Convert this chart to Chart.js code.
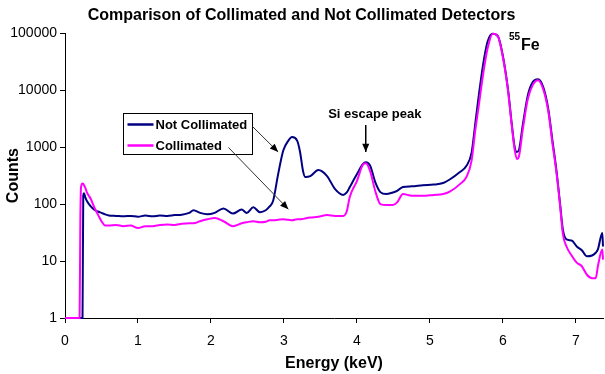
<!DOCTYPE html>
<html>
<head>
<meta charset="utf-8">
<script src="https://cdn.jsdelivr.net/npm/chart.js@4.4.1/dist/chart.umd.min.js"></script>
<style>
  html, body { margin: 0; padding: 0; background: #fff; }
  #wrap { width: 605px; height: 374px; }
</style>
</head>
<body>
<div id="wrap"><canvas id="c" width="605" height="374"></canvas></div>
<script>
// ---- data ----
const energy = [0, 0.2, 0.21, 0.22, 0.24, 0.25, 0.26, 0.28, 0.3, 0.35, 0.4, 0.45, 0.5, 0.55, 0.6,
  0.7, 0.8, 0.9, 1.0, 1.1, 1.2, 1.3, 1.4, 1.5, 1.6, 1.7, 1.76, 1.85, 1.95, 2.05, 2.17, 2.3, 2.42,
  2.49, 2.58, 2.67, 2.75, 2.8, 2.85, 2.92, 2.99, 3.06, 3.11, 3.18, 3.22, 3.26, 3.29, 3.36, 3.47,
  3.59, 3.7, 3.81, 3.86, 3.9, 4.0, 4.08, 4.12, 4.18, 4.25, 4.32, 4.4, 4.49, 4.55, 4.63, 4.75, 4.9,
  5.05, 5.18, 5.27, 5.41, 5.5, 5.57, 5.62, 5.66, 5.73, 5.79, 5.86, 5.93, 6.0, 6.07, 6.12, 6.16,
  6.19, 6.22, 6.27, 6.34, 6.41, 6.48, 6.55, 6.62, 6.68, 6.73, 6.78, 6.82, 6.87, 6.94, 7.01, 7.08,
  7.15, 7.22, 7.27, 7.3, 7.36, 7.37];

const notCollimated = [1, 1, 1, 1, 1, 140, 155, 130, 113, 92, 80, 74, 70, 66, 63,
  62, 61, 62, 60, 63, 61, 63, 62, 64, 65, 70, 78, 70, 66, 70, 84, 68, 80,
  70, 88, 72, 78, 90, 113, 336, 870, 1300, 1500, 1300, 822, 385, 300, 310, 395,
  310, 183, 145, 160, 198, 336, 500, 540, 470, 243, 162, 150, 160, 170, 200, 205, 215,
  220, 234, 270, 365, 470, 800, 2570, 6650, 29500, 72000, 98000, 89000, 39000, 10000, 2570, 1000,
  820, 900, 2400, 8100, 14000, 15500, 11400, 4700, 1230, 410, 107, 36, 24, 23, 18, 15.5,
  12.1, 12.5, 14, 16, 31, 18];

const collimated = [1, 1, 50, 200, 230, 228, 215, 190, 160, 125, 88, 66, 50, 42, 42,
  43, 41, 42, 38, 41, 41, 43, 44, 43, 45, 46, 46, 50, 54, 57, 50, 41, 46,
  48, 50, 48, 49, 52, 52, 53, 54, 53, 52, 54, 54, 55, 56, 58, 60,
  64, 62, 62, 75, 132, 256, 490, 520, 380, 170, 100, 96, 96, 107, 150, 140, 140,
  145, 150, 165, 224, 300, 580, 1960, 4500, 20000, 55000, 98000, 88000, 37000, 9500, 2400, 900,
  620, 700, 2000, 7000, 12500, 15000, 10500, 4300, 1100, 380, 100, 30, 18, 12.5, 9.4, 8.1,
  5.75, 5.0, 5.0, 8.1, 15.9, 10.6];

const xTicks = [0, 1, 2, 3, 4, 5, 6, 7];
const yTicks = [1, 10, 100, 1000, 10000, 100000];
const seriesNames = ['Not Collimated', 'Collimated'];
const seriesColors = ['#000080', '#FF00FF'];

// ---- annotations (drawn on the canvas) ----
const annot = {
  id: 'annot',
  afterDraw(chart) {
    const ctx = chart.ctx;
    const xs = chart.scales.x, ys = chart.scales.y;
    const px = e => xs.getPixelForValue(e);
    const py = v => ys.getPixelForValue(v);
    ctx.save();

    function arrow(x1, y1, x2, y2, color, lw, head) {
      ctx.strokeStyle = color; ctx.lineWidth = lw;
      ctx.beginPath(); ctx.moveTo(x1, y1); ctx.lineTo(x2, y2); ctx.stroke();
      const a = Math.atan2(y2 - y1, x2 - x1);
      ctx.fillStyle = '#000';
      ctx.beginPath();
      ctx.moveTo(x2, y2);
      ctx.lineTo(x2 - head * Math.cos(a - 0.4), y2 - head * Math.sin(a - 0.4));
      ctx.lineTo(x2 - head * Math.cos(a + 0.4), y2 - head * Math.sin(a + 0.4));
      ctx.closePath(); ctx.fill();
    }

    // legend box
    const bx = Math.round(px(0.80)) + 0.5, by = Math.round(py(3900)) + 0.5;
    const bw = 129, bh = 41;
    ctx.fillStyle = '#fff';
    ctx.fillRect(bx, by, bw, bh);
    ctx.strokeStyle = '#000'; ctx.lineWidth = 1;
    ctx.strokeRect(bx, by, bw, bh);
    ctx.font = 'bold 13px Arial, "Liberation Sans", sans-serif';
    ctx.textBaseline = 'middle'; ctx.textAlign = 'left';
    for (let i = 0; i < 2; i++) {
      const ly = by + 11 + i * 21;
      ctx.strokeStyle = seriesColors[i]; ctx.lineWidth = 2.5;
      ctx.beginPath(); ctx.moveTo(bx + 4, ly); ctx.lineTo(bx + 30, ly); ctx.stroke();
      ctx.fillStyle = '#000';
      ctx.fillText(seriesNames[i], bx + 32, ly + 1);
    }

    // arrows from legend to curves
    arrow(bx + bw, by + 13, px(2.92), py(822), '#333', 1, 9);
    arrow(bx + 105, by + 34, px(3.06), py(81), '#333', 1, 9);

    // Si escape peak
    ctx.fillStyle = '#000';
    ctx.font = 'bold 13px Arial, "Liberation Sans", sans-serif';
    ctx.textAlign = 'center';
    ctx.fillText('Si escape peak', px(4.12) + 9, py(822) - 38);
    arrow(px(4.12), py(822) - 27, px(4.12), py(822), '#000', 1.5, 9);

    // 55Fe
    ctx.textAlign = 'left';
    ctx.font = 'bold 10px Arial, "Liberation Sans", sans-serif';
    ctx.fillText('55', px(5.93) + 11, py(100000) + 4);
    ctx.font = 'bold 16px Arial, "Liberation Sans", sans-serif';
    ctx.fillText('Fe', px(5.93) + 23, py(100000) + 12);
    ctx.restore();
  }
};

const mk = (vals) => energy.map((e, i) => ({ x: e, y: vals[i] }));

new Chart(document.getElementById('c'), {
  type: 'line',
  data: {
    datasets: [
      { label: seriesNames[0], data: mk(notCollimated), borderColor: seriesColors[0],
        borderWidth: 2, pointRadius: 0, order: 2, cubicInterpolationMode: 'monotone', clip: 3 },
      { label: seriesNames[1], data: mk(collimated), borderColor: seriesColors[1],
        borderWidth: 2, pointRadius: 0, order: 1, cubicInterpolationMode: 'monotone', clip: 3 }
    ]
  },
  options: {
    responsive: false,
    animation: false,
    devicePixelRatio: 1,
    layout: { padding: { left: 0, right: 2, top: 0, bottom: 0 } },
    plugins: {
      legend: { display: false },
      tooltip: { enabled: false },
      title: {
        display: true,
        text: 'Comparison of Collimated and Not Collimated Detectors',
        color: '#000',
        font: { family: 'Arial, "Liberation Sans", sans-serif', size: 16, weight: 'bold' },
        padding: { top: 6, bottom: 8 }
      }
    },
    scales: {
      x: {
        type: 'linear', min: 0, max: 7.37,
        afterBuildTicks: s => { s.ticks = xTicks.map(v => ({ value: v })); },
        afterFit: s => { s.height = 56; },
        ticks: { color: '#000', padding: 10, maxRotation: 0,
          font: { family: 'Arial, "Liberation Sans", sans-serif', size: 14 },
          callback: v => String(v) },
        grid: { display: true, drawOnChartArea: false, drawTicks: true, tickLength: 5, color: '#000' },
        border: { display: true, color: '#000', width: 1 },
        title: { display: true, text: 'Energy (keV)', color: '#000',
          font: { family: 'Arial, "Liberation Sans", sans-serif', size: 16, weight: 'bold' },
          padding: { top: 0, bottom: 1 } }
      },
      y: {
        type: 'logarithmic', min: 1, max: 100000,
        afterBuildTicks: s => { s.ticks = yTicks.map(v => ({ value: v })); },
        afterFit: s => { s.width = 65; },
        ticks: { color: '#000', padding: 3,
          font: { family: 'Arial, "Liberation Sans", sans-serif', size: 14 },
          callback: v => String(v) },
        grid: { display: true, drawOnChartArea: false, drawTicks: true, tickLength: 5, color: '#000' },
        border: { display: true, color: '#000', width: 1 },
        title: { display: true, text: 'Counts', color: '#000',
          font: { family: 'Arial, "Liberation Sans", sans-serif', size: 16, weight: 'bold' },
          padding: { top: 4, bottom: 0 } }
      }
    }
  },
  plugins: [annot]
});
</script>
</body>
</html>
